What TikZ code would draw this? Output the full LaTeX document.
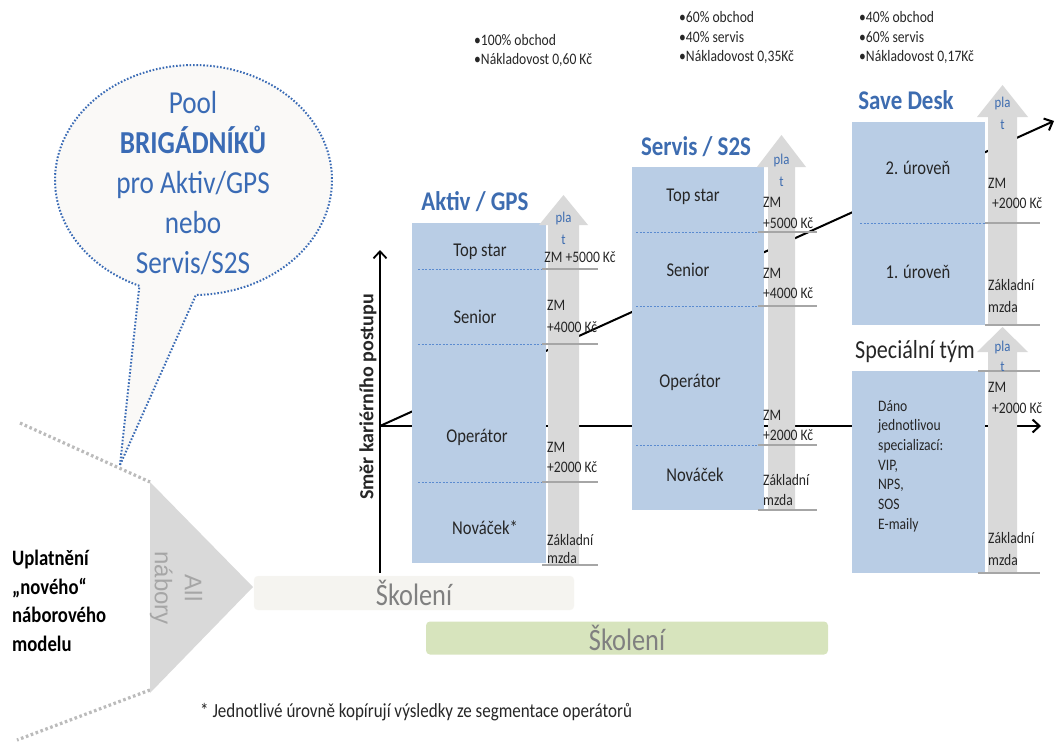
\documentclass[tikz,border=0pt]{standalone}
\usepackage{fontspec}
\setmainfont{Carlito}[FakeStretch=0.85]
\newfontfamily\plainfont{Carlito}
\newfontfamily\arialfont{Liberation Sans}
\usetikzlibrary{arrows.meta}
\definecolor{boxblue}{HTML}{B9CDE5}
\definecolor{titleblue}{HTML}{3D6CB0}
\definecolor{dashblue}{HTML}{5B8BD0}
\definecolor{linegray}{HTML}{A6A6A6}
\definecolor{arrowgray}{HTML}{D9D9D9}
\definecolor{labtext}{HTML}{262626}
\definecolor{skolA}{HTML}{F5F4F0}
\definecolor{skolB}{HTML}{D7E4BD}
\definecolor{skoltext}{HTML}{808080}
\definecolor{bubblefill}{HTML}{FAF9F7}
\definecolor{dotblue}{HTML}{3A6BB5}
\definecolor{dotgray}{HTML}{BBBBBB}
\definecolor{alltext}{HTML}{A6A6A6}
\begin{document}
\begin{tikzpicture}[x=1pt,y=-1pt,
  box/.style={fill=boxblue, draw=none, inner sep=0pt, outer sep=0pt},
  ttl/.style={font=\fontsize{27}{32}\selectfont\bfseries, text=titleblue, inner sep=0pt},
  lab/.style={font=\fontsize{19.5}{23}\selectfont, text=labtext, inner sep=0pt},
  zm/.style={font=\fontsize{16}{20}\selectfont, text=labtext, anchor=west, inner sep=0pt},
  plat/.style={font=\fontsize{15}{18}\selectfont, text=titleblue, inner sep=0pt},
  topnote/.style={font=\fontsize{16}{20}\selectfont, text=labtext, anchor=west, inner sep=0pt},
  dline/.style={draw=dashblue, dash pattern=on 2pt off 1.5pt, line width=0.9pt},
  gline/.style={draw=linegray, line width=1.2pt},
  garrow/.style={fill=arrowgray, draw=none},
  mainline/.style={draw=black, line width=2pt, -{Straight Barb[length=7pt,width=13pt,line width=2pt]}},
  bubble/.style={fill=bubblefill, draw=dotblue, line width=2pt, dash pattern=on 1.6pt off 1.8pt},
  dotline/.style={draw=dotgray, line width=3.2pt, dash pattern=on 2.6pt off 2.6pt},
  skolbar/.style={rounded corners=4pt, inner sep=0pt, font=\fontsize{31}{36}\selectfont, text=skoltext}
]
\useasboundingbox (0,0) rectangle (1055,742);

% ---- career lines (behind everything)
\coordinate (o) at (380,426);
\coordinate (axtop) at (380,250);
\coordinate (axbot) at (380,573);
\coordinate (hend) at (1041,426);
\coordinate (dend) at (1054,121);
\draw[mainline] (o) -- (hend);
\draw[mainline] (o) -- (dend);
\draw[draw=black, line width=1.8pt, -{Straight Barb[length=7pt,width=13pt,line width=1.8pt]}] (axbot) -- (axtop);
\node[font=\plainfont\fontsize{20}{24}\selectfont\bfseries, text=labtext, rotate=90, inner sep=0pt] (axlabel) at (368,397) {Směr kariérního postupu};

% ---- bubble
\coordinate (btip) at (120,465);
\draw[bubble] (btip) -- plot[domain=113:449, samples=150, smooth] ({193.5+138.5*cos(\x)},{180+115*sin(\x)}) -- cycle;
\node[font=\fontsize{32}{40}\selectfont, text=dotblue, align=center, inner sep=0pt] (bubtext) at (193,183)
  {Pool\\{\bfseries BRIGÁDNÍKŮ}\\pro Aktiv/GPS\\nebo\\Servis/S2S};

% ---- funnel
\draw[dotline] (20,423) -- (150,482);
\draw[dotline] (150,690) -- (17,740);
\fill[arrowgray] (150,482) -- (253,587) -- (150,693) -- cycle;
\node[font=\arialfont\fontsize{24}{30}\selectfont, text=alltext, rotate=-90, align=center, inner sep=0pt] (allnab) at (176,588) {All\\nábory};
\node[font=\fontsize{22}{28.5}\selectfont\bfseries, text=black, align=left, anchor=west, inner sep=0pt] (uplat) at (12,601)
  {Uplatnění\\„nového“\\náborového\\modelu};

% ---- Školení bars
\node[skolbar, fill=skolA, draw=skolA!70!white, minimum width=320pt, minimum height=34pt] (skol1) at (414,593) {Školení};
\node[skolbar, fill=skolB, minimum width=402pt, minimum height=33pt] (skol2) at (627,638) {Školení};

% ---- Aktiv / GPS
\node[box, minimum width=134pt, minimum height=340pt] (aktiv) at (479,393) {};
\fill[garrow] (548,565) -- (548,225) -- (539,225) -- (563.5,195) -- (588,225) -- (579,225) -- (579,565) -- cycle;
\draw[dline] (418,269) -- (542,269);
\draw[dline] (418,344) -- (542,344);
\draw[dline] (418,482) -- (542,482);
\foreach \yy in {269,344,482,565} \draw[gline] (542,\yy) -- (598,\yy);
\node[ttl] (aktivtitle) at (475,202) {Aktiv / GPS};
\node[lab] (a1) at (480,252) {Top star};
\node[lab] (a2) at (475,317) {Senior};
\node[lab] (a3) at (477,437) {Operátor};
\node[lab] (a4) at (485,528) {Nováček*};
\node[plat] (ap1) at (563.5,218) {pla};
\node[plat] (ap2) at (563.5,240) {t};
\node[zm, anchor=center] (az1) at (580,257) {ZM +5000 Kč};
\node[zm] (az2) at (547,305) {ZM};
\node[zm] (az3) at (547,327) {+4000 Kč};
\node[zm] (az4) at (547,447) {ZM};
\node[zm] (az5) at (547,467) {+2000 Kč};
\node[zm] (az6) at (547,540) {Základní};
\node[zm] (az7) at (547,558) {mzda};

% ---- Servis / S2S
\node[box, minimum width=132pt, minimum height=343pt] (servis) at (698,338.5) {};
\fill[garrow] (768,510) -- (768,167) -- (757,167) -- (781.5,135) -- (806,167) -- (795,167) -- (795,510) -- cycle;
\draw[dline] (636,232) -- (760,232);
\draw[dline] (636,306) -- (760,306);
\draw[dline] (636,445) -- (760,445);
\foreach \yy in {232,306,445,510} \draw[gline] (758,\yy) -- (817,\yy);
\node[ttl] (servistitle) at (696,147) {Servis / S2S};
\node[lab] (s1) at (693,197) {Top star};
\node[lab] (s2) at (688,270) {Senior};
\node[lab] (s3) at (690,382) {Operátor};
\node[lab] (s4) at (695,475) {Nováček};
\node[plat] (sp1) at (781.5,160) {pla};
\node[plat] (sp2) at (781.5,182) {t};
\node[zm] (sz1) at (763,202) {ZM};
\node[zm] (sz2) at (763,223) {+5000 Kč};
\node[zm] (sz3) at (763,273) {ZM};
\node[zm] (sz4) at (763,293) {+4000 Kč};
\node[zm] (sz5) at (763,415) {ZM};
\node[zm] (sz6) at (763,435) {+2000 Kč};
\node[zm] (sz7) at (763,480) {Základní};
\node[zm] (sz8) at (763,500) {mzda};

% ---- Save Desk
\node[box, minimum width=133pt, minimum height=203pt] (save) at (918.5,223.5) {};
\fill[garrow] (988,325) -- (988,117) -- (977,117) -- (1002.5,85) -- (1028,117) -- (1017,117) -- (1017,325) -- cycle;
\draw[dline] (860,223) -- (985,223);
\foreach \yy in {223,325} \draw[gline] (985,\yy) -- (1040,\yy);
\node[ttl] (savetitle) at (906,100) {Save Desk};
\node[lab] (d1) at (918,168) {2. úroveň};
\node[lab] (d2) at (918,272) {1. úroveň};
\node[plat] (dp1) at (1002.5,103) {pla};
\node[plat] (dp2) at (1002.5,125) {t};
\node[zm] (dz1) at (988,183) {ZM};
\node[zm] (dz2) at (992,203) {+2000 Kč};
\node[zm] (dz3) at (988,285) {Základní};
\node[zm] (dz4) at (988,307) {mzda};

% ---- Speciální tým
\node[box, minimum width=133pt, minimum height=202pt] (special) at (918.5,472) {};
\fill[garrow] (988,573) -- (988,352) -- (977,352) -- (1002.5,327) -- (1028,352) -- (1017,352) -- (1017,573) -- cycle;
\foreach \yy in {371,573} \draw[gline] (978,\yy) -- (1040,\yy);
\node[font=\fontsize{26}{30}\selectfont, text=labtext, inner sep=0pt] (spectitle) at (915,352) {Speciální tým};
\node[plat] (tp1) at (1002.5,347) {pla};
\node[plat] (tp2) at (1002.5,367) {t};
\node[zm] (tz1) at (988,387) {ZM};
\node[zm] (tz2) at (992,408) {+2000 Kč};
\node[zm] (tz3) at (988,538) {Základní};
\node[zm] (tz4) at (988,560) {mzda};
\node[font=\fontsize{16}{19.7}\selectfont, text=labtext, align=left, anchor=west, inner sep=0pt] (spectext) at (878,466)
  {Dáno\\jednotlivou\\specializací:\\VIP,\\NPS,\\SOS\\E-maily};

% ---- top notes
\node[topnote] (n1a) at (474,40) {•100\% obchod};
\node[topnote] (n1b) at (474,60) {•Nákladovost 0,60 Kč};
\node[topnote] (n2a) at (679,17) {•60\% obchod};
\node[topnote] (n2b) at (679,37) {•40\% servis};
\node[topnote] (n2c) at (679,57) {•Nákladovost 0,35Kč};
\node[topnote] (n3a) at (859,17) {•40\% obchod};
\node[topnote] (n3b) at (859,37) {•60\% servis};
\node[topnote] (n3c) at (859,57) {•Nákladovost 0,17Kč};

% ---- footnote
\node[font=\fontsize{20}{24}\selectfont, text=labtext, anchor=west, inner sep=0pt] (foot) at (200,712)
  {* Jednotlivé úrovně kopírují výsledky ze segmentace operátorů};
\end{tikzpicture}
\end{document}
